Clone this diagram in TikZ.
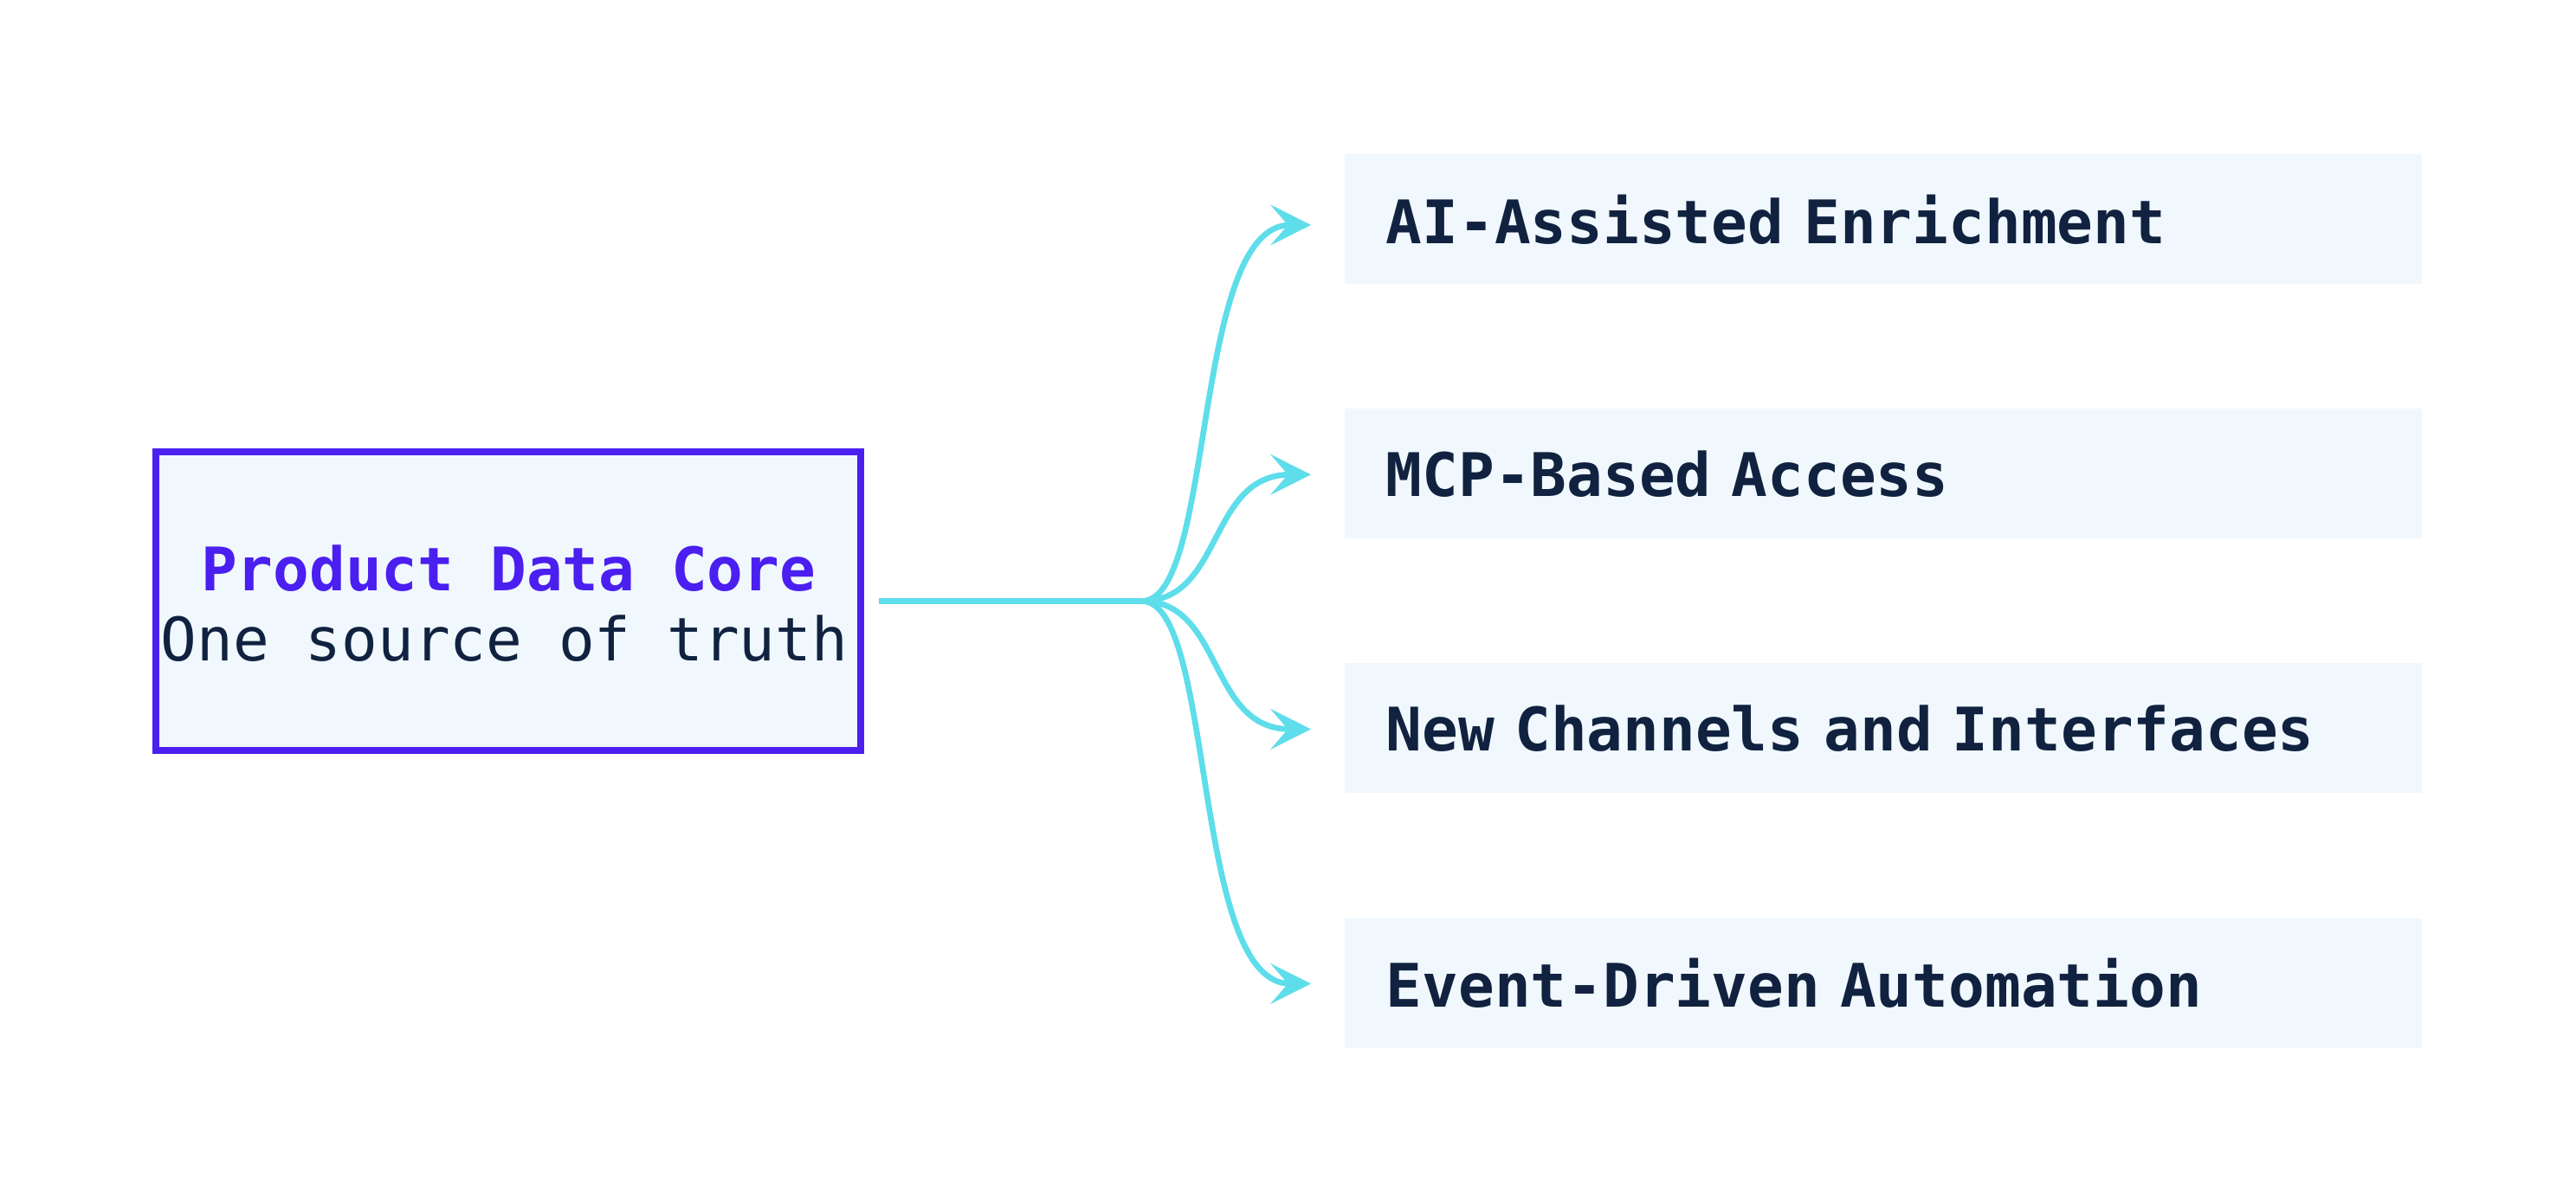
\documentclass[tikz,border=0pt]{standalone}
\usepackage{fontspec}
\setmonofont{DejaVu Sans Mono}
\usetikzlibrary{arrows.meta}
\definecolor{corepurple}{HTML}{4A1FF0}
\definecolor{navy}{HTML}{10223F}
\definecolor{paleblue}{HTML}{F0F8FD}
\definecolor{linkcyan}{HTML}{5EDDEA}
\tikzset{
  corebox/.style={draw=corepurple, line width=1.2pt, fill=paleblue, minimum width=4.29cm, minimum height=1.82cm},
  targetbox/.style={fill=paleblue, minimum width=6.55cm, minimum height=0.79cm, anchor=west, text=navy,
    font=\ttfamily\bfseries\fontsize{10.4}{12}\selectfont, text width=6.05cm, align=left},
  link/.style={linkcyan, line width=1pt, -{Stealth[length=7pt, width=7pt, inset=3pt]}}
}
\begin{document}
\begin{tikzpicture}[x=0.01cm, y=-0.01cm]
				\useasboundingbox (0,0) rectangle (1568,733);
				\node[corebox] (core) at (309.5,366) {};
				\node[text=corepurple, font=\ttfamily\bfseries\fontsize{10.4}{12}\selectfont] (title) at (309.5,346) {Product Data Core};
				\node[text=navy, font=\ttfamily\fontsize{10.4}{12}\selectfont] (sub) at (307,389) {One source of truth};
				
				\node[targetbox] (enrich) at (818,133.5) {AI-Assisted Enrichment};
				\node[targetbox] (mcp) at (818,288.5) {MCP-Based Access};
				\node[targetbox] (channels) at (818,443.5) {New Channels and Interfaces};
				\node[targetbox] (events) at (818,598.5) {Event-Driven Automation};
				
				\coordinate (hub) at (695,366);
				\draw[linkcyan, line width=1pt] (535,366) -- (hub);
				\draw[link] (hub) .. controls (740,366) and (725,137) .. ([xshift=-0.2cm]enrich.west |- 0,137);
				\draw[link] (hub) .. controls (745,366) and (735,289) .. ([xshift=-0.2cm]mcp.west |- 0,289);
				\draw[link] (hub) .. controls (745,366) and (735,444) .. ([xshift=-0.2cm]channels.west |- 0,444);
				\draw[link] (hub) .. controls (740,366) and (725,599) .. ([xshift=-0.2cm]events.west |- 0,599);
\end{tikzpicture}
\end{document}
